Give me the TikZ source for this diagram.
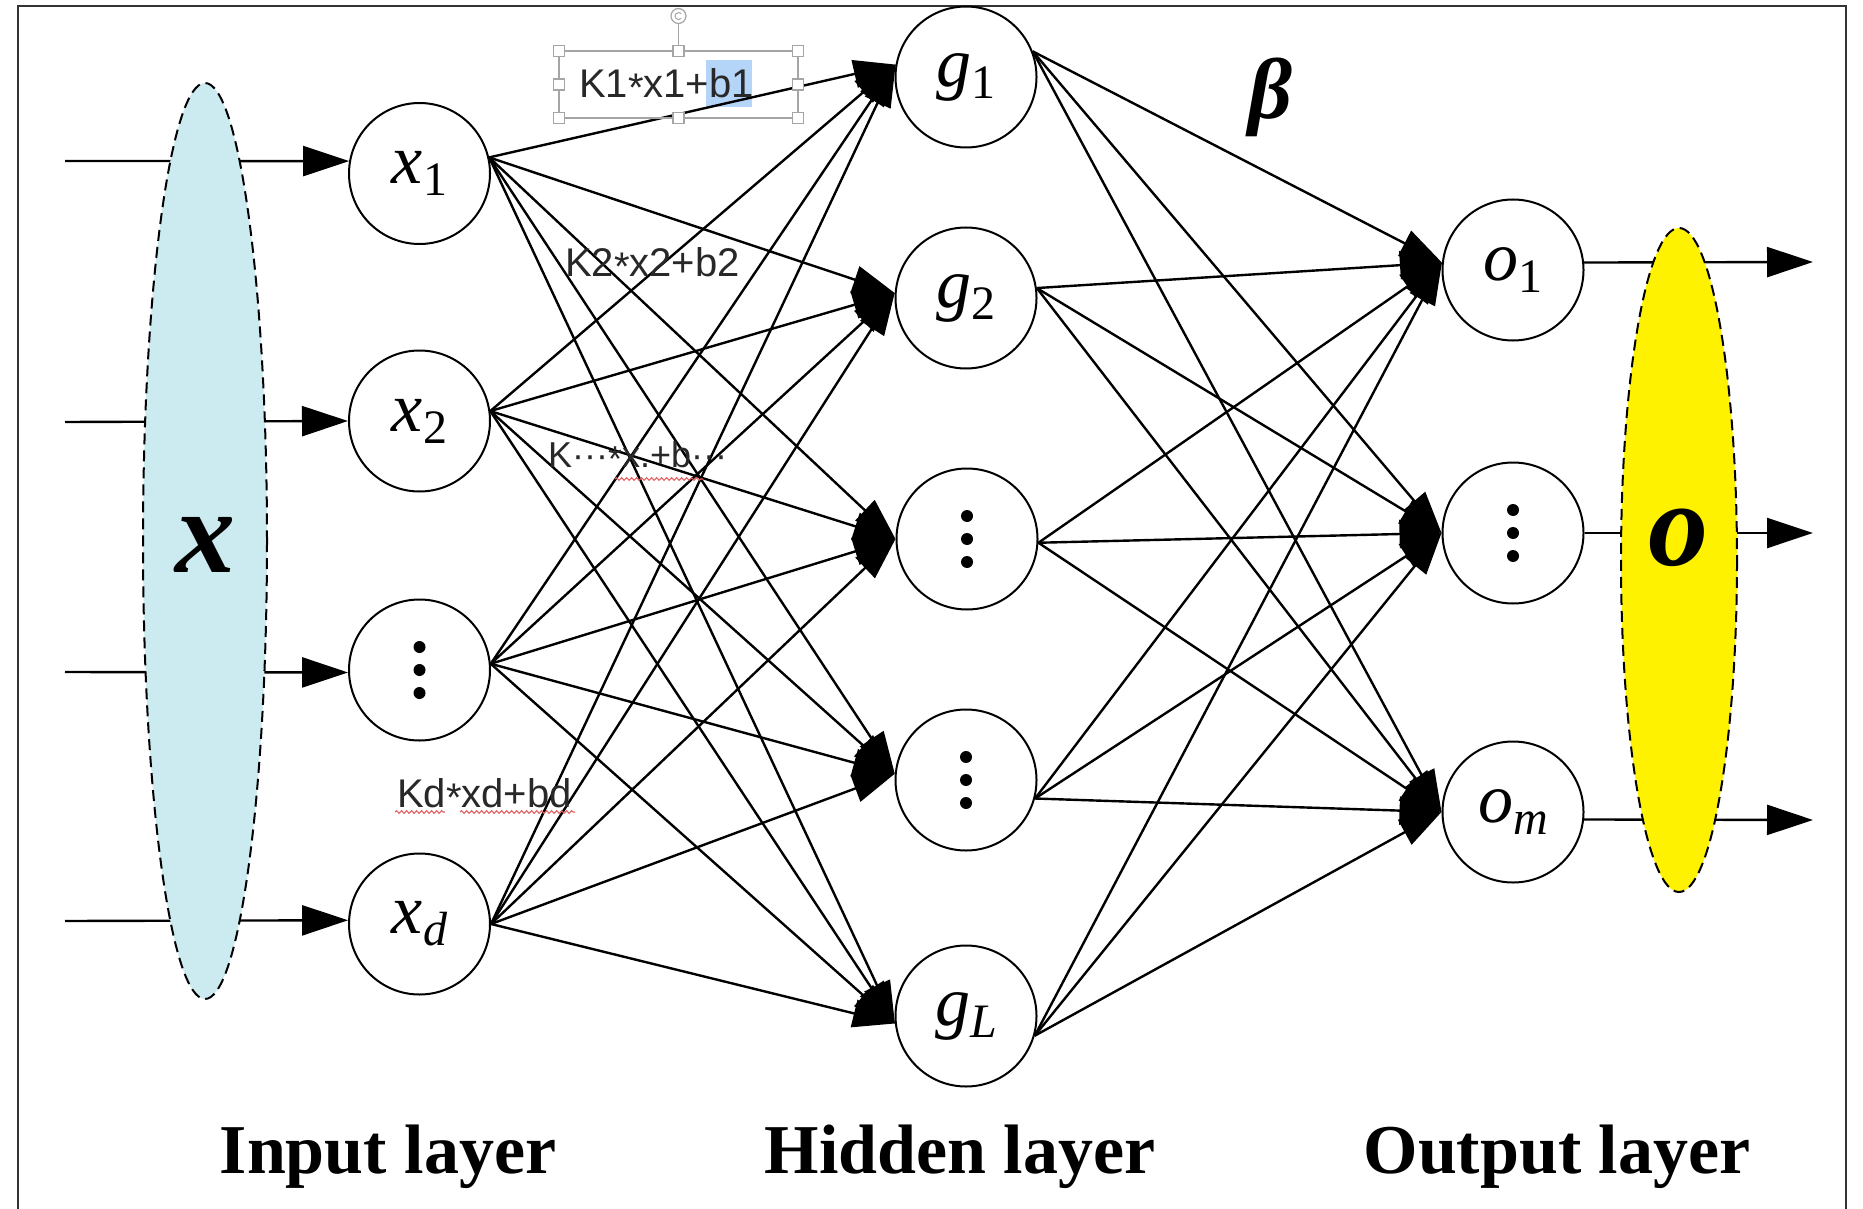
\documentclass[tikz,border=0pt]{standalone}
\usepackage{fontspec}
\setmainfont{Liberation Serif}
\newfontfamily\lblsans{Liberation Sans}
\usetikzlibrary{arrows.meta,decorations.pathmorphing}
\definecolor{cyanfill}{RGB}{204,235,240}
\definecolor{hilite}{RGB}{180,213,248}
\definecolor{boxgray}{RGB}{165,165,165}
\definecolor{txtgray}{RGB}{40,40,40}
\definecolor{squig}{RGB}{228,95,95}
\newcommand{\nlabel}[2]{{\fontsize{70}{70}\selectfont\itshape #1}\raisebox{-12pt}{\fontsize{48}{48}\selectfont #2}}
\newcommand{\ndots}[1]{%
  \fill (#1) ++(0,-23) circle (6);
  \fill (#1) circle (6);
  \fill (#1) ++(0,23) circle (6);}
\begin{document}
\begin{tikzpicture}[x=1pt,y=-1pt,
  neuron/.style={circle,draw,line width=2pt,minimum size=141pt,inner sep=0pt},
  conn/.style={line width=2.4pt,-{Triangle[length=42pt,width=28pt]}},
  ioarrow/.style={line width=2.4pt,-{Triangle[length=46pt,width=30pt]}},
  blobell/.style={draw,dash pattern=on 11pt off 6pt,line width=2pt},
  klabel/.style={anchor=base west,inner sep=0pt,text=txtgray,font=\lblsans\fontsize{40}{40}\selectfont},
  layerlabel/.style={anchor=base,inner sep=0pt,font=\fontsize{70}{70}\selectfont\bfseries},
  squiggle/.style={squig,line width=1.1pt,decorate,decoration={snake,amplitude=1.3pt,segment length=5pt}},
  handle/.style={draw=boxgray,fill=white,line width=1.2pt}]
\useasboundingbox (0,0) rectangle (1863,1209);
\clip (0,0) rectangle (1863,1209);
\fill[white] (0,0) rectangle (1863,1209);
\draw[line width=2.5pt,black!80] (18,6) rectangle (1846,1260);

% highlight behind b1
\fill[hilite] (706,60) rectangle (752,107);

% input layer
\node[neuron] (x1) at (419.5,173.5) {\nlabel{x}{1}};
\node[neuron] (x2) at (419.5,421) {\nlabel{x}{2}};
\node[neuron] (x3) at (419.5,670) {};
\node[neuron] (xd) at (419.5,924) {\nlabel{x}{\itshape d}};
% hidden layer
\node[neuron] (g1) at (966,77) {\nlabel{g}{1}};
\node[neuron] (g2) at (966,298) {\nlabel{g}{2}};
\node[neuron] (h3) at (967,539) {};
\node[neuron] (h4) at (966,780) {};
\node[neuron] (gL) at (966,1016) {\nlabel{g}{\itshape L}};
% output layer
\node[neuron] (o1) at (1513,270) {\nlabel{o}{1}};
\node[neuron] (o2) at (1513,533) {};
\node[neuron] (om) at (1513,812) {\nlabel{o}{\itshape m}};

\ndots{x3}
\ndots{h3}
\ndots{h4}
\ndots{o2}

% input / output free ends
\coordinate (in1) at (65,161);
\coordinate (in2) at (65,422);
\coordinate (in3) at (65,672);
\coordinate (in4) at (65,921);
\coordinate (out1) at (1813,262);
\coordinate (out2) at (1813,533);
\coordinate (out3) at (1813,820);

\draw[ioarrow] (in1) -- (x1.170);
\draw[ioarrow] (in2) -- (x2.180);
\draw[ioarrow] (in3) -- (x3.182);
\draw[ioarrow] (in4) -- (xd.177);
\draw[ioarrow] (o1.6.5) -- (out1);
\draw[ioarrow] (o2.east) -- (out2);
\draw[ioarrow] (om.-6.5) -- (out3);

% input -> hidden
\foreach \s/\sa in {x1/13,x2/8,x3/5,xd/0}
  \foreach \t/\ta in {g1/170,g2/176,h3/180,h4/175,gL/186}
    \draw[conn] (\s.\sa) -- (\t.\ta);
% hidden -> output
\foreach \s/\sa in {g1/21,g2/8,h3/-3,h4/-15,gL/-16}
  \foreach \t/\ta in {o1/174,o2/180,om/180}
    \draw[conn] (\s.\sa) -- (\t.\ta);

% vector ellipses (over the arrow lines)
\draw[blobell,fill=cyanfill] (205,541) ellipse [x radius=62,y radius=458];
\draw[blobell,fill=yellow] (1679,560) ellipse [x radius=58,y radius=332];
\node (bigx) at (205,545) {\fontsize{120}{120}\selectfont\bfseries\itshape x};
\node (bigo) at (1678,538) {\fontsize{120}{120}\selectfont\bfseries\itshape o};
\node (beta) at (1271,97) {\fontsize{86}{86}\selectfont\bfseries\itshape β};

% text box with handles
\draw[boxgray,line width=1.5pt] (559,51) rectangle (798,118);
\draw[boxgray,line width=1.5pt] (678.5,46) -- (678.5,23);
\draw[handle] (678.5,16) circle (7.5);
\draw[boxgray,line width=1pt] (678.5,16) ++(40:3.5) arc[start angle=40,end angle=320,radius=3.5];
\foreach \hx/\hy in {559/51,678.5/51,798/51,559/84.5,798/84.5,559/118,678.5/118,798/118}
  \draw[handle] (\hx-5.5,\hy-5.5) rectangle ++(11,11);

% labels on connections
\node[klabel] (k1) at (579,98) {K1\raisebox{-4pt}{*}x1+b1};
\node[klabel] (k2) at (565,276) {K2\raisebox{-4pt}{*}x2+b2};
\node[klabel,font=\lblsans\fontsize{36}{36}\selectfont] (k3) at (548,467) {K···\raisebox{-4pt}{*}x.+b···};
\node[klabel] (kd) at (397,807) {Kd\raisebox{-4pt}{*}xd+bd};
\draw[squiggle] (615,479) -- (703,479);
\draw[squiggle] (395,812) -- (445,812);
\draw[squiggle] (460,812) -- (575,812);

% layer titles
\node[layerlabel] (lin) at (388,1173) {Input layer};
\node[layerlabel] (lhid) at (960,1173) {Hidden layer};
\node[layerlabel] (lout) at (1557,1173) {Output layer};
\end{tikzpicture}
\end{document}
